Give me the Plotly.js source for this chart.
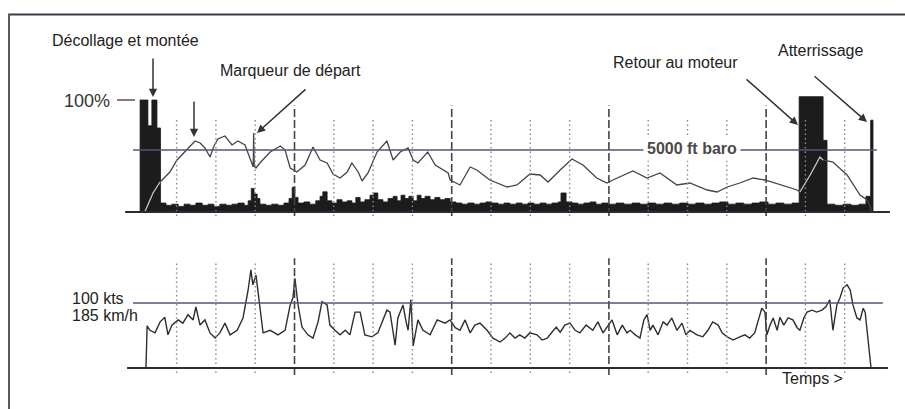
<!DOCTYPE html>
<html>
<head>
<meta charset="utf-8">
<script src="https://cdn.plot.ly/plotly-3.0.1.min.js"></script>
<style>
  html, body { margin: 0; padding: 0; background: #ffffff; }
  #chart { width: 905px; height: 409px; }
</style>
</head>
<body>
<div id="chart"></div>
<script>
// ---- Data (time in minutes, grid every 10 min) ----
const engineT = [-0.5, 0.7, 2.7, 3.7, 5.0, 5.9,
  7.3, 8.8, 10.4, 11.9, 13.4, 14.9, 16.5, 18.0, 19.5, 21.0,
  22.6, 24.1, 25.6, 27.2, 28.2, 29.0, 29.7, 30.5, 31.2, 32.7,
  34.2, 35.8, 37.3, 38.6, 39.4, 40.1, 40.9, 42.4, 43.9, 45.4,
  46.5, 47.2, 48.3, 49.5, 50.8, 52.1, 53.4, 54.6, 55.6, 56.7,
  57.9, 59.2, 60.2, 61.2, 62.5, 63.8, 65.1, 66.1, 67.1, 68.1,
  69.1, 70.2, 71.2, 72.2, 73.2, 74.5, 75.7, 77.0, 78.3, 79.6,
  81.1, 82.6, 84.1, 85.7, 87.2, 88.7, 90.2, 91.8, 93.3, 94.8,
  96.4, 97.9, 99.4, 100.9, 102.5, 104.0, 105.5, 107.1, 107.8, 109.1,
  110.6, 112.1, 113.6, 115.2, 116.7, 118.2, 119.8, 121.8, 123.8, 125.9,
  127.9, 129.9, 131.9, 134.0, 136.0, 138.0, 140.1, 142.1, 144.2, 146.2,
  148.2, 150.3, 152.3, 154.3, 156.4, 158.4, 160.5, 162.5, 164.5, 166.6,
  168.4, 174.5, 175.5, 177.5, 179.6, 181.6, 183.6, 185.4, 186.6, 187.2];
const enginePct = [0, 100, 77, 100, 75, 8,
  6, 7, 5, 7, 6, 8, 6, 7, 5, 7,
  6, 7, 8, 6, 10, 21, 16, 12, 7, 6,
  7, 6, 8, 12, 22, 13, 8, 9, 7, 10,
  14, 18, 10, 8, 11, 9, 10, 8, 13, 9,
  11, 15, 17, 11, 9, 12, 14, 10, 15, 12,
  14, 10, 15, 12, 14, 11, 13, 11, 12, 9,
  8, 7, 8, 7, 8, 9, 8, 7, 8, 7,
  8, 7, 8, 7, 8, 7, 8, 9, 17, 9,
  8, 7, 8, 9, 7, 8, 7, 8, 7, 8,
  7, 8, 7, 8, 7, 8, 7, 8, 7, 8,
  9, 7, 8, 7, 8, 9, 7, 8, 7, 8,
  103, 64, 7, 6, 7, 6, 7, 14, 82, 0];

const altT = [1.9, 2.7, 4.0, 5.8, 7.05, 8.3, 10.1, 12.1, 14.7, 16.0,
  17.2, 18.5, 19.5, 20.5, 22.3, 24.1, 25.6, 27.4, 28.7, 29.5,
  29.6, 29.75, 30.2, 31.2, 33.8, 36.4, 37.6, 38.9, 40.6, 42.7,
  44.7, 46.5, 48.3, 49.8, 51.6, 53.4, 54.6, 56.2, 57.2, 58.7,
  61.0, 63.5, 65.1, 66.9, 68.9, 70.2, 71.4, 73.9, 75.8, 79.1,
  79.6, 82.1, 84.7, 86.4, 89.7, 94.1, 96.6, 99.9, 102.5, 104.5,
  107.6, 110.6, 113.4, 116.9, 119.5, 121.0, 126.1, 129.7, 133.0, 137.3,
  140.6, 145.0, 147.5, 150.1, 153.3, 156.7, 159.7, 163.5, 167.9, 168.6,
  171.2, 173.7, 174.5, 177.0, 180.6, 183.9, 185.7, 186.4, 186.8];
const altFt = [0, 565, 1532, 2420, 2823, 3226, 4194, 4839, 5726, 5565,
  5162, 4436, 5323, 5887, 6129, 5404, 5726, 5404, 4194, 3629,
  6371, 3700, 3549, 3952, 4839, 5323, 5000, 3549, 3226, 3790,
  5242, 4194, 3952, 3065, 2742, 3226, 3952, 3226, 2500, 3145,
  4839, 5726, 4194, 4839, 5162, 4194, 3952, 4839, 3790, 3145,
  2581, 2178, 3629, 3387, 2581, 2016, 2178, 3065, 2984, 2420,
  3387, 4274, 3790, 2742, 2339, 2581, 3307, 2742, 3145, 2178,
  2339, 1774, 1613, 2016, 2339, 2742, 2581, 2178, 1774, 1613,
  2984, 4436, 4194, 4032, 2984, 1371, 968, 565, 0];

const spdT = [1.5, 2.2, 2.5, 3.2, 4.5, 5.8, 7.0, 7.8, 8.8, 10.4,
  11.6, 12.9, 14.2, 14.9, 15.95, 17.2, 18.5, 19.8, 21.0, 22.3,
  23.6, 25.4, 26.9, 28.2, 28.9, 29.4, 30.2, 31.2, 32.0, 33.8,
  35.8, 37.6, 38.9, 39.6, 40.1, 40.9, 41.9, 43.4, 44.7, 46.0,
  47.0, 48.3, 49.0, 50.3, 51.6, 52.9, 54.1, 55.4, 56.7, 57.9,
  59.7, 61.2, 62.5, 63.5, 64.3, 65.1, 65.6, 66.3, 67.6, 68.4,
  68.9, 69.6, 70.2, 71.4, 72.7, 74.5, 76.3, 78.3, 79.6, 80.9,
  82.1, 83.4, 84.7, 85.9, 87.2, 89.0, 90.5, 92.3, 93.6, 94.8,
  96.1, 97.3, 98.6, 99.9, 101.7, 103.0, 104.3, 105.5, 106.6, 107.6,
  108.8, 110.1, 111.4, 112.6, 114.2, 115.9, 117.2, 118.5, 119.5, 120.8,
  122.1, 123.4, 124.6, 125.4, 126.7, 127.9, 128.9, 129.7, 130.5, 131.2,
  132.5, 133.8, 134.8, 136.0, 137.3, 138.6, 139.6, 140.6, 142.4, 143.9,
  145.2, 146.4, 147.8, 148.8, 150.1, 151.6, 153.3, 154.6, 155.8, 157.1,
  157.9, 158.9, 159.7, 160.2, 161.0, 161.8, 162.8, 163.5, 164.5, 165.6,
  166.8, 167.9, 168.6, 169.6, 170.4, 171.7, 172.9, 174.2, 175.2, 176.2,
  177.0, 178.0, 178.8, 179.6, 180.6, 181.4, 182.1, 183.1, 183.9, 184.7,
  185.2, 185.7, 186.2, 186.7, 187.5];
const spdKts = [0, 0, 65, 58, 54, 71, 78, 51, 66, 74,
  69, 82, 74, 94, 66, 74, 54, 46, 54, 69,
  51, 58, 77, 120, 151, 128, 143, 89, 54, 58,
  51, 58, 97, 108, 138, 97, 63, 51, 46, 71,
  102, 97, 66, 58, 51, 58, 51, 86, 86, 51,
  48, 54, 74, 89, 86, 58, 35, 77, 97, 71,
  58, 105, 34, 74, 58, 51, 74, 69, 74, 62,
  58, 74, 54, 66, 69, 58, 46, 40, 46, 54,
  46, 51, 46, 54, 51, 43, 46, 55, 63, 55,
  66, 69, 58, 54, 66, 58, 71, 54, 63, 74,
  51, 66, 54, 58, 51, 46, 74, 82, 58, 66,
  51, 71, 66, 77, 58, 69, 51, 58, 51, 48,
  58, 71, 66, 54, 48, 43, 48, 51, 46, 54,
  71, 92, 86, 51, 66, 77, 58, 78, 66, 77,
  74, 62, 58, 77, 86, 89, 86, 89, 94, 105,
  58, 97, 108, 123, 128, 120, 97, 77, 74, 92,
  86, 58, 35, 0, 0];

const gridMinutes = [10, 20, 30, 40, 50, 60, 70, 80, 90, 100, 110, 120, 130, 140, 150, 160, 170, 180];
const majorMinutes = [40, 80, 120, 160];
const refAltitudeFt = 5000;
const refSpeedKts = 100;
const fullPowerPct = 100;
// periods where the altitude trace is drawn over the black power blocks
const blockWindows = [[1.5, 5.9], [168.4, 174.6]];

// ---- Build figure ----
const FONT = 'Liberation Sans, Arial, sans-serif';
const W = 905, H = 409;
const px = v => v / W;
const py = v => 1 - v / H;

// light segments of the altitude line (inside black blocks), separated by gaps
const lightAltT = [], lightAltFt = [];
blockWindows.forEach((w, k) => {
  if (k > 0) { lightAltT.push(null); lightAltFt.push(null); }
  altT.forEach((t, i) => {
    if (t >= w[0] && t <= w[1]) { lightAltT.push(t); lightAltFt.push(altFt[i]); }
  });
});

const traces = [
  { x: engineT, y: enginePct, type: 'scatter', mode: 'lines', line: { shape: 'hv', color: '#1c1c1c', width: 0.8 },
    fill: 'tozeroy', fillcolor: '#1c1c1c', xaxis: 'x', yaxis: 'y', hoverinfo: 'skip' },
  { x: spdT, y: spdKts, type: 'scatter', mode: 'lines', line: { color: '#2e2e2e', width: 1.4 },
    xaxis: 'x', yaxis: 'y2', hoverinfo: 'skip' },
  { x: altT, y: altFt, type: 'scatter', mode: 'lines', line: { color: '#444', width: 1.3 },
    xaxis: 'x', yaxis: 'y3', hoverinfo: 'skip' },
  { x: lightAltT, y: lightAltFt, type: 'scatter', mode: 'lines', connectgaps: false, line: { color: '#c8c8c8', width: 1.2 },
    xaxis: 'x', yaxis: 'y3', hoverinfo: 'skip' }
];

const shapes = [];
// scan border
shapes.push({ type: 'line', xref: 'paper', yref: 'paper', x0: px(8), x1: 1, y0: py(14.5), y1: py(14.5), line: { color: '#3b3b48', width: 2 } });
shapes.push({ type: 'line', xref: 'paper', yref: 'paper', x0: px(9), x1: px(9), y0: py(14), y1: 0, line: { color: '#5a5a5a', width: 2 } });
// grid lines
gridMinutes.forEach(t => {
  const major = majorMinutes.includes(t);
  shapes.push({ type: 'line', xref: 'x', yref: 'y', x0: t, x1: t, y0: -3.6, y1: major ? 95 : 84.8,
    line: { color: major ? '#444' : '#8a84a0', width: major ? 1.6 : 1.4, dash: major ? '8px,3px' : '1.5px,3px' } });
  shapes.push({ type: 'line', xref: 'x', yref: 'y2', x0: t, x1: t, y0: major ? -10.8 : -7.7, y1: major ? 169 : 161.5,
    line: { color: major ? '#444' : '#8a84a0', width: major ? 1.6 : 1.4, dash: major ? '8px,3px' : '1.5px,3px' } });
});
// reference lines
shapes.push({ type: 'line', xref: 'x', yref: 'y3', x0: -1.1, x1: 188.2, y0: refAltitudeFt, y1: refAltitudeFt, line: { color: '#525678', width: 1.3 } });
shapes.push({ type: 'line', xref: 'x', yref: 'y2', x0: -1.1, x1: 189.7, y0: refSpeedKts, y1: refSpeedKts, line: { color: '#525678', width: 1.3 } });
// 100% tick
shapes.push({ type: 'line', xref: 'paper', yref: 'y', x0: px(117), x1: px(135), y0: fullPowerPct, y1: fullPowerPct, line: { color: '#6a4a4a', width: 1.5 } });
// baselines
shapes.push({ type: 'line', xref: 'x', yref: 'y', x0: -3.1, x1: 191.5, y0: 0, y1: 0, line: { color: '#2a2a38', width: 2.2 } });
shapes.push({ type: 'line', xref: 'x', yref: 'y2', x0: -2.6, x1: 191.0, y0: 0, y1: 0, line: { color: '#2a2a38', width: 2.2 } });

const txt = (text, x, y, extra) => Object.assign({ text: text, xref: 'paper', yref: 'paper', x: px(x), y: py(y),
  xanchor: 'left', yanchor: 'middle', showarrow: false, font: { family: FONT, size: 16, color: '#222' } }, extra || {});
const arrow = (hx, hy, ax, ay) => ({ text: '', xref: 'paper', yref: 'paper', x: px(hx), y: py(hy), ax: ax, ay: ay,
  showarrow: true, arrowhead: 2, arrowsize: 1.1, arrowwidth: 1.5, arrowcolor: '#333' });

const annotations = [
  txt('Décollage et montée', 50, 40),
  txt('Marqueur de départ', 218, 70),
  txt('Retour au moteur', 611, 62),
  txt('Atterrissage', 776, 51),
  txt('100%', 62, 101, { font: { family: FONT, size: 18, color: '#333' } }),
  txt('5000 ft baro', 643, 148, { font: { family: FONT, size: 16, color: '#4a4a4a', weight: 'bold' }, bgcolor: '#ffffff', borderpad: 3 }),
  txt('100 kts', 70, 298),
  txt('185 km/h', 70, 315),
  txt('Temps >', 780, 378),
  arrow(153, 97, 0, -40),
  arrow(194, 137, 0, -37),
  arrow(257, 133, 50, -45),
  arrow(798, 125, -53, -47),
  arrow(867, 122, -54, -47)
];

const layout = {
  width: W, height: H,
  margin: { l: 0, r: 0, t: 0, b: 0 },
  paper_bgcolor: '#ffffff', plot_bgcolor: '#ffffff',
  showlegend: false,
  xaxis: { range: [-34.94, 195.34], visible: false, fixedrange: true },
  yaxis: { range: [-175.9, 189.3], visible: false, fixedrange: true },
  yaxis2: { range: [-63.08, 566.15], visible: false, overlaying: 'y', fixedrange: true },
  yaxis3: { range: [-15887, 17097], visible: false, overlaying: 'y', fixedrange: true },
  shapes: shapes,
  annotations: annotations
};

Plotly.newPlot('chart', traces, layout, { staticPlot: true, displayModeBar: false });
</script>
</body>
</html>
